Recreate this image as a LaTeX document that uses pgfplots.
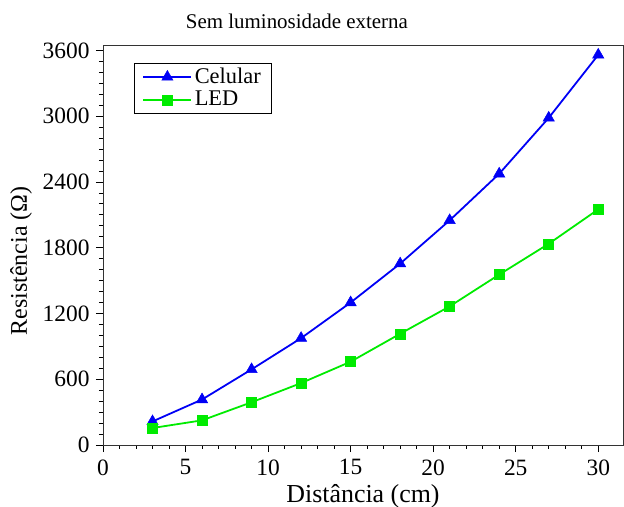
\documentclass[border=0pt]{standalone}
\usepackage{fontspec}
\setmainfont{Liberation Serif}
\usepackage{pgfplots}
\pgfplotsset{compat=1.18}
\definecolor{cblue}{RGB}{0,0,245}
\definecolor{cgreen}{RGB}{0,235,0}
\begin{document}
\fontsize{19}{23}\selectfont
\begin{tikzpicture}[x=1bp,y=1bp]
\path[use as bounding box] (-103,-62) rectangle (521,445);
\begin{axis}[
  at={(0,0)}, anchor=south west,
  scale only axis, width=520bp, height=400bp,
  xmin=0, xmax=31.5, ymin=0, ymax=3650,
  xtick={0,5,...,30}, minor x tick num=4,
  ytick={0,600,...,3600}, minor y tick num=5,
  tick align=outside, tick pos=left,
  major tick length=7bp, minor tick length=4bp,
  tick style={black, line width=0.8pt},
  axis line style={line width=0.9pt, black!80},
  /pgf/number format/assume math mode=true,
  /pgf/number format/1000 sep={},
  ticklabel style={font=\fontsize{23.5}{27}\selectfont},
  xticklabel style={yshift=-1bp},
  title={Sem luminosidade externa},
  title style={font=\fontsize{21}{25}\selectfont, at={(0.373,1)}, anchor=south, yshift=4bp},
  xlabel={Distância (cm)},
  ylabel={Resistência (Ω)},
  xlabel style={font=\fontsize{26}{30}\selectfont, yshift=4bp},
  ylabel style={font=\fontsize{24}{28}\selectfont, at={(ticklabel cs:0.46)}, yshift=-2bp},
  legend style={at={(0.06,0.955)}, anchor=north west, draw=black, line width=0.6pt,
    font=\fontsize{22.5}{26}\selectfont, row sep=0bp, inner xsep=8bp, inner ysep=2bp,
    nodes={inner sep=2.5bp}},
  legend cell align=left,
  legend image code/.code={%
    \draw[#1, mark repeat=2, mark phase=2] plot coordinates {(0bp,0bp) (24bp,0bp) (48bp,0bp)};},
  clip=false,
]
\addplot[cblue, line width=1.8pt, mark=triangle*, mark size=6.5bp, mark options={solid, fill=cblue, line width=0.5pt}]
coordinates {(3,215) (6,415) (9,690) (12,975) (15,1300) (18,1655) (21,2050) (24,2475) (27,2985) (30,3560)};
\addlegendentry{Celular}
\addplot[cgreen, line width=1.8pt, mark=square*, mark size=5bp, mark options={solid, fill=cgreen, line width=0.5pt}]
coordinates {(3,155) (6,225) (9,390) (12,565) (15,760) (18,1015) (21,1265) (24,1555) (27,1836) (30,2150)};
\addlegendentry{LED}
\end{axis}
\end{tikzpicture}
\end{document}
